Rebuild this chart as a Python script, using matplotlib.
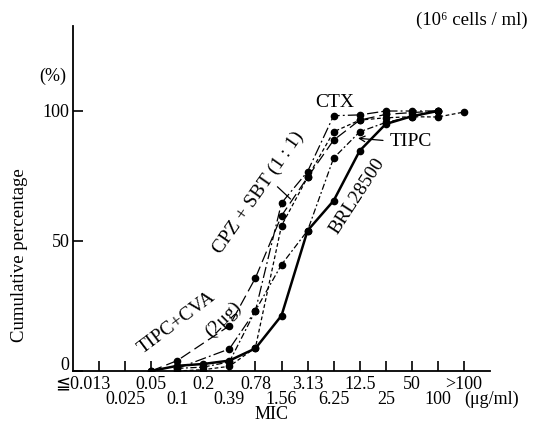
import matplotlib
matplotlib.use("Agg")
import matplotlib.pyplot as plt
import numpy as np

plt.rcParams['font.family'] = ['Liberation Serif', 'DejaVu Serif', 'DejaVu Sans']

# MIC categories (µg/ml), one per tick position
mic_labels = ["≦0.013", "0.025", "0.05", "0.1", "0.2", "0.39", "0.78", "1.56",
              "3.13", "6.25", "12.5", "25", "50", "100", ">100"]
y_ticks = [0, 50, 100]

# cumulative percentage per drug (None = no point)
ctx      = [None, None, None, 1, None, 8.5, 23.2, 64.6, 76.7, 98.2, 98.5, 100, 100, 100, None]
tipc_cva = [None, None, 0, 4, None, 17.4, 35.8, 59.7, 74.5, 88.8, 96.5, 98.7, 99.4, 100, None]
cpz_sbt  = [None, None, None, 0, 0.5, 1.8, 9.0, 55.9, 74.5, 92.0, 96.5, 97.4, 97.8, 97.7, 99.6]
tipc     = [None, None, None, 1, 1.5, 3.5, 23.2, 40.9, 54.0, 81.9, 92.0, 95.6, 97.8, 100, None]
brl      = [None, None, 0, 2, 2.7, 4.0, 8.7, 21.3, 54.0, 65.5, 84.7, 95.0, 98.0, 100, None]

W, H = 535, 431
fig = plt.figure(figsize=(W/100, H/100), dpi=100)
ax = fig.add_axes([73/W, 1-372/H, (490-73)/W, (372-27)/H])

x = np.arange(len(mic_labels))

def draw(vals, lw, dashes):
    xs = [xi for xi, v in zip(x, vals) if v is not None]
    ys = [v for v in vals if v is not None]
    line, = ax.plot(xs, ys, color='black', lw=lw, marker='o', ms=4.5,
                    markerfacecolor='black', markeredgecolor='black')
    if dashes is not None:
        line.set_dashes(dashes)

draw(ctx, 0.9, (9, 2.5, 1.5, 2.5))
draw(tipc_cva, 0.9, (9, 4))
draw(cpz_sbt, 0.9, (3, 2))
draw(tipc, 0.9, (5, 2, 1.5, 2))
draw(brl, 1.8, None)

ax.set_xlim(-1, 15)
ax.set_ylim(0, 132.7)
for s in ['top', 'right']:
    ax.spines[s].set_visible(False)
for s in ['left', 'bottom']:
    ax.spines[s].set_linewidth(1.3)

FS = 13
ax.set_yticks(y_ticks)
ax.set_yticklabels([])
ax.tick_params(axis='y', direction='in', length=7, width=1.2)
ax.set_xticks(x)
ax.set_xticklabels([])
ax.tick_params(axis='x', direction='in', length=7, width=1.2)

ytr = ax.get_yaxis_transform()
for v in y_ticks:
    off = 2.5 if v == 0 else 0
    ax.text(-0.008, v + off, str(v), transform=ytr, ha='right', va='center', fontsize=FS)

tr = ax.get_xaxis_transform()
for i, lab in enumerate(mic_labels):
    if i == 0:
        ax.text(0.45, -0.035, lab, transform=tr, ha='right', va='center', fontsize=FS)
    elif i % 2 == 0:
        ax.text(i, -0.035, lab, transform=tr, ha='center', va='center', fontsize=FS)
    else:
        ax.text(i, -0.079, lab, transform=tr, ha='center', va='center', fontsize=FS)
ax.text(14.0, -0.079, "(μg/ml)", transform=tr, ha='left', va='center', fontsize=FS)
ax.text(6.6, -0.124, "MIC", transform=tr, ha='center', va='center', fontsize=FS)

ax.text(-0.048, 0.858, "(%)", transform=ax.transAxes, ha='center', va='center', fontsize=FS)
fig.text(20/W, 1-255/H, "Cumulative percentage", rotation=90, ha='center', va='center', fontsize=13.5)
fig.text(528/W, 1-20/H, "(10⁶ cells / ml)", ha='right', va='center', fontsize=13.5)

# annotations
AS = 14
ax.text(9.06, 103.8, "CTX", ha='center', va='center', fontsize=AS)
ax.text(11.97, 88.5, "TIPC", ha='center', va='center', fontsize=AS)
ax.annotate("", xy=(9.83, 89.6), xytext=(11.0, 88.6),
            arrowprops=dict(arrowstyle='->', lw=0.9, color='black'))
ax.text(9.9, 67.7, "BRL28500", rotation=57, ha='center', va='center', fontsize=AS)
ax.text(6.12, 69, "CPZ + SBT (1 : 1)", rotation=55, ha='center', va='center', fontsize=AS)
ax.plot([6.85, 7.34], [70.8, 66.2], color='black', lw=0.9)
ax.text(3.0, 18.8, "TIPC+CVA", rotation=37, ha='center', va='center', fontsize=AS)
ax.text(4.78, 20.0, "(2μg)", rotation=45, ha='center', va='center', fontsize=AS)

fig.savefig("out.png", dpi=100)
